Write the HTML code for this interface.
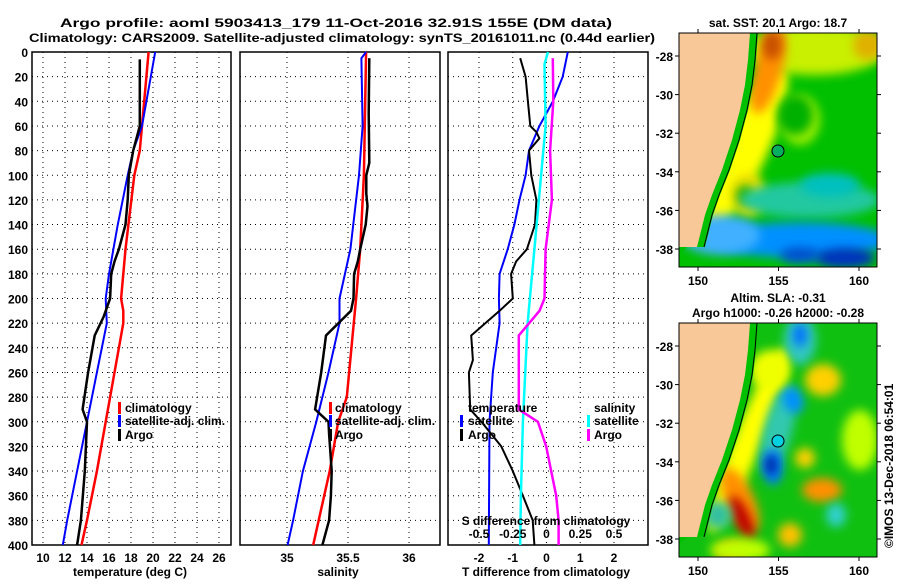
<!DOCTYPE html>
<html><head><meta charset="utf-8"><style>
body{margin:0;background:#fff;}
svg text{font-family:"Liberation Sans",sans-serif;font-weight:bold;font-size:12px;fill:#000;}
</style></head><body>
<svg id="s" width="900" height="580" xmlns="http://www.w3.org/2000/svg">
<text x="60" y="27" font-size="14" textLength="552" lengthAdjust="spacingAndGlyphs">Argo profile: aoml 5903413_179 11-Oct-2016 32.91S 155E (DM data)</text>
<text x="29" y="42" font-size="14" textLength="626" lengthAdjust="spacingAndGlyphs">Climatology: CARS2009. Satellite-adjusted climatology: synTS_20161011.nc (0.44d earlier)</text>
<g id="maps"></g>
<g id="plots"></g>
</svg>
<script>
const depthTicks=[0,20,40,60,80,100,120,140,160,180,200,220,240,260,280,300,320,340,360,380,400];
const tempTicks=[10,12,14,16,18,20,22,24,26];
const salTicks=[35,35.5,36];
const tdTicks=[-2,-1,0,1,2];
const sdTicks=[-0.5,-0.25,0,0.25,0.5];
const sdTickLabels=['-0.5','-0.25','0','0.25','0.5'];
const tempClimD=[0,80,100,160,200,210,220,240,280,300,340,380,400];
const tempClimV=[19.6,18.8,18.3,17.5,17.1,17.3,17.3,16.9,16.1,15.7,14.9,14.0,13.5];
const tempSatD=[0,60,80,100,140,160,180,200,220,260,300,340,380,400];
const tempSatV=[20.2,19.0,18.2,17.7,16.8,16.4,16.0,15.7,15.8,14.9,14.0,13.1,12.2,11.8];
const tempArgoD=[6,60,80,100,120,140,160,170,180,200,215,230,260,290,300,340,380,400];
const tempArgoV=[18.8,18.8,18.2,17.8,17.7,17.5,16.9,16.5,16.2,16.1,15.5,14.7,14.1,13.6,14.0,13.8,13.45,13.1];
const salClimD=[0,100,160,200,280,300,340,380,400];
const salClimV=[35.648,35.63,35.60,35.566,35.49,35.42,35.35,35.26,35.215];
const salSatD=[0,5,60,100,160,200,220,260,300,340,380,400];
const salSatV=[35.648,35.61,35.62,35.59,35.52,35.43,35.43,35.34,35.24,35.13,35.05,35.005];
const salArgoD=[5,50,90,100,115,125,140,160,170,180,200,210,230,260,290,300,310,340,360,380,400];
const salArgoV=[35.675,35.67,35.675,35.65,35.65,35.66,35.645,35.6,35.58,35.55,35.545,35.525,35.32,35.28,35.23,35.34,35.345,35.366,35.36,35.345,35.29];
const tdSatD=[0,20,40,60,80,100,120,140,160,180,200,220,260,300,400];
const tdSatV=[0.63,0.48,0.19,-0.21,-0.52,-0.62,-0.8,-0.95,-1.15,-1.39,-1.41,-1.39,-1.59,-1.69,-1.71];
const tdArgoD=[5,20,40,60,65,70,80,100,120,140,160,170,180,200,210,230,250,260,290,300,320,340,360,380,400];
const tdArgoV=[-0.78,-0.62,-0.55,-0.48,-0.3,-0.21,-0.52,-0.45,-0.3,-0.34,-0.58,-0.9,-1.05,-1.0,-1.39,-2.23,-2.18,-2.3,-2.26,-1.93,-1.34,-1.0,-0.7,-0.41,-0.36];
const sdSatD=[0,10,60,100,160,220,300,360,400];
const sdSatV=[0.01,-0.015,-0.007,-0.04,-0.09,-0.14,-0.175,-0.19,-0.195];
const sdArgoD=[5,40,80,120,160,200,210,230,290,300,320,340,360,380,400];
const sdArgoV=[0.047,0.05,0.027,0.04,-0.007,-0.015,-0.052,-0.205,-0.205,-0.064,-0.002,0.035,0.072,0.09,0.09];

const NS='http://www.w3.org/2000/svg';
const plots=document.getElementById('plots');
function mk(tag,attrs,parent){const e=document.createElementNS(NS,tag);for(const k in attrs)e.setAttribute(k,attrs[k]);(parent||plots).appendChild(e);return e;}
const Y0=52,Y1=545;
function yD(d){return Y0+(d/400)*(Y1-Y0);}
function scaleX(x0,x1,v0,v1){return v=>x0+(v-v0)/(v1-v0)*(x1-x0);}
const xT=scaleX(43,219,10,26);
const xS=scaleX(287,409,35,36);
const xTD=scaleX(479,614,-2,2);
const xSD=scaleX(479,614,-0.5,0.5);
const panels=[[32,231],[240,440],[448,648]];
function panelFrame(p,name,ticks,xf,labelY){
  const [a,b]=p;
  for(const d of depthTicks){if(d===0||d===400)continue;
    const l=mk('line',{x1:a,x2:b,y1:yD(d),y2:yD(d),stroke:'#000','stroke-width':1,'stroke-dasharray':'1,4'});
    
    }
  for(const t of ticks){const x=xf(t);
    const l=mk('line',{x1:x,x2:x,y1:Y0,y2:Y1,stroke:'#000','stroke-width':1,'stroke-dasharray':'1,4'});
    
    
    const tx=mk('text',{x:x,y:labelY,'text-anchor':'middle'});tx.textContent=String(t);
    
    }
  const r=mk('rect',{x:a,y:Y0,width:b-a,height:Y1-Y0,fill:'none',stroke:'#000','stroke-width':1.5});
  
  
}
function line(D,V,xf,color,w,name){
  const pts=D.map((d,i)=>xf(V[i]).toFixed(1)+','+yD(d).toFixed(1)).join(' ');
  const p=mk('polyline',{points:pts,fill:'none',stroke:color,'stroke-width':w});
  
  
}
function txt(x,y,s,name,anchor,size){const t=mk('text',{x:x,y:y,'text-anchor':anchor||'start'});if(size)t.setAttribute('font-size',size);t.textContent=s;
  
  return t;}
function legMark(x,y,color,name){const r=mk('rect',{x:x,y:y-10,width:3,height:12,fill:color});
  
  }

for(const d of depthTicks){const t=mk('text',{x:28,y:yD(d)+5,'text-anchor':'end'});t.textContent=String(d);
  
  }

panelFrame(panels[0],'temperature-panel',tempTicks,xT,562);
panelFrame(panels[1],'salinity-panel',salTicks,xS,562);
panelFrame(panels[2],'difference-panel',tdTicks,xTD,562);
line(tempClimD,tempClimV,xT,'#ff0000',2.5,'temp-climatology-line');
line(tempSatD,tempSatV,xT,'#0000ff',2,'temp-satellite-line');
line(tempArgoD,tempArgoV,xT,'#000',2.5,'temp-argo-line');
line(salClimD,salClimV,xS,'#ff0000',2.5,'sal-climatology-line');
line(salSatD,salSatV,xS,'#0000ff',2,'sal-satellite-line');
line(salArgoD,salArgoV,xS,'#000',2.5,'sal-argo-line');
line(tdSatD,tdSatV,xTD,'#0000ff',2,'tdiff-satellite-line');
line(tdArgoD,tdArgoV,xTD,'#000',2,'tdiff-argo-line');
line(sdSatD,sdSatV,xSD,'#00ffff',2.5,'sdiff-satellite-line');
line(sdArgoD,sdArgoV,xSD,'#ff00ff',2.5,'sdiff-argo-line');

txt(130,576,'temperature (deg C)','x-axis-title-temperature','middle');
txt(338,576,'salinity','x-axis-title-salinity','middle');
txt(546,576,'T difference from climatology','x-axis-title-tdiff','middle');
txt(546,525,'S difference from climatology','sdiff-axis-title','middle');
for(let i=0;i<sdTicks.length;i++){txt(xSD(sdTicks[i]),538,sdTickLabels[i],'sdiff-tick-label','middle');}

legMark(118,412,'#ff0000','legend-mark-climatology');txt(125,412,'climatology','legend-climatology');
legMark(118,425,'#0000ff','legend-mark-satellite');txt(125,425,'satellite-adj. clim.','legend-satellite');
legMark(118,439,'#000','legend-mark-argo');txt(125,439,'Argo','legend-argo');
legMark(329,412,'#ff0000','legend-mark-climatology-2');txt(335,412,'climatology','legend-climatology-2');
legMark(329,425,'#0000ff','legend-mark-satellite-2');txt(335,425,'satellite-adj. clim.','legend-satellite-2');
legMark(329,439,'#000','legend-mark-argo-2');txt(335,439,'Argo','legend-argo-2');
txt(468,412,'temperature','legend-temperature-header');
legMark(460,425,'#0000ff','legend-mark-tsat');txt(468,425,'satellite','legend-tsat');
legMark(460,439,'#000','legend-mark-targo');txt(468,439,'Argo','legend-targo');
txt(594,412,'salinity','legend-salinity-header');
legMark(587,425,'#00ffff','legend-mark-ssat');txt(594,425,'satellite','legend-ssat');
legMark(587,439,'#ff00ff','legend-mark-sargo');txt(594,439,'Argo','legend-sargo');

const maps=document.getElementById('maps');
function M(tag,attrs,parent){return mk(tag,attrs,parent||maps);}
const lonTicks=[150,155,160];const latTicks=[-28,-30,-32,-34,-36,-38];
function mapAt(oy,kind){
  const g=M('g',{});
  
  
  const cid='clip'+kind;
  const cp=M('clipPath',{id:cid},g);M('rect',{x:679,y:33+oy,width:198,height:234},cp);
  const inner=M('g',{'clip-path':'url(#'+cid+')'},g);
  // [color, cx, cy, rx, ry, rotation]
  const blobs=kind==='sst'?
   [['#00c000'],
    ['#c8f000',815,50,70,25,0],['#ffff00',745,150,22,90,25],['#ff9000',768,70,14,45,15],['#c85000',772,45,10,15,0],
    ['#e0b000',868,45,15,15,0],['#a0f000',800,120,20,25,0],['#00b000',795,115,18,20,0],
    ['#f0e000',748,195,18,22,0],['#20b000',745,195,9,10,0],
    ['#20c8a0',810,200,70,18,0],['#00c0c0',830,185,30,12,0],
    ['#0090ff',800,240,90,18,0],['#40b0ff',720,235,40,20,0],['#0030c0',845,258,30,10,0],['#0050d0',800,255,20,8,0]]:
   [['#10c010'],
    ['#ffff00',748,150,14,100,22],['#ff9000',740,210,14,35,-25],['#c00000',742,228,8,24,-25],
    ['#30c8b0',778,140,14,45,15],['#0080ff',773,177,10,18,0],['#0020a0',771,175,6,10,0],
    ['#30c8c0',800,50,16,25,0],['#0070ff',800,45,7,12,0],['#0090ff',793,110,10,14,-20],
    ['#ffd000',823,90,18,16,0],['#f0ff00',770,80,20,20,0],['#ffd000',805,168,10,10,0],
    ['#ff9000',822,200,20,12,0],['#30d0d0',836,225,10,12,0],['#ffc000',790,245,12,12,0],
    ['#ff6000',732,262,14,10,0],['#30c0a0',718,225,14,14,0],['#c0ff00',860,150,18,30,0],['#c0ff00',740,260,30,12,0]];
  M('rect',{x:679,y:33+oy,width:198,height:234,fill:blobs[0][0]},inner);
  const fid='blur'+kind;const f=M('filter',{id:fid,x:'-50%',y:'-50%',width:'200%',height:'200%'},g);M('feGaussianBlur',{stdDeviation:5},f);
  for(let i=1;i<blobs.length;i++){const b=blobs[i];M('ellipse',{cx:b[1],cy:b[2]+oy,rx:b[3],ry:b[4],fill:b[0],filter:'url(#'+fid+')',transform:'rotate('+b[5]+' '+b[1]+' '+(b[2]+oy)+')'},inner);}
  const land=[[679,33],[750,33],[748,60],[745,85],[740,110],[732,140],[722,170],[712,195],[705,215],[700,235],[697,247],[679,247]];
  M('polygon',{points:land.map(p=>(p[0]+8)+','+(p[1]+oy)).join(' ')+' 679,'+(255+oy),fill:'#00c000',stroke:'none'},inner);
  M('polyline',{points:land.slice(0,11).map(p=>(p[0]+7)+','+(p[1]+oy)).join(' '),fill:'none',stroke:'#000','stroke-width':1},inner);
  const la=M('polygon',{points:land.map(p=>p[0]+','+(p[1]+oy)).join(' '),fill:'#f8c898'},inner);
  
  
  const c=M('circle',{cx:778,cy:151+oy,r:6,fill:kind==='sst'?'#00b060':'#00d0e0',stroke:'#000','stroke-width':1},g);
  
  
  M('rect',{x:679,y:33+oy,width:198,height:234,fill:'none',stroke:'#000','stroke-width':1},g);
  for(const lo of lonTicks){const x=698+(lo-150)*16.1;M('line',{x1:x,x2:x,y1:267+oy,y2:271+oy,stroke:'#000'},g);M('line',{x1:x,x2:x,y1:33+oy,y2:29+oy,stroke:'#000'},g);
    const t=M('text',{x:x,y:285+oy,'text-anchor':'middle'},g);t.textContent=String(lo);
    
    }
  for(const la2 of latTicks){const y=56+oy+(-28-la2)*19.3;M('line',{x1:877,x2:881,y1:y,y2:y,stroke:'#000'},g);M('line',{x1:675,x2:679,y1:y,y2:y,stroke:'#000'},g);
    const t=M('text',{x:673,y:y+5,'text-anchor':'end'},g);t.textContent=String(la2);
    
    }
}
mapAt(0,'sst');mapAt(290,'sla');
function mt(x,y,s,n){const t=M('text',{x:x,y:y,'text-anchor':'middle'});t.textContent=s;
  
  }
mt(778,27,'sat. SST: 20.1 Argo: 18.7','sst-map-title');
mt(778,302,'Altim. SLA: -0.31','sla-map-title');
mt(778,317,'Argo h1000: -0.26 h2000: -0.28','sla-map-subtitle');
const cr=M('text',{x:0,y:0,transform:'translate(893,548) rotate(-90)','font-weight':'normal'});cr.textContent='©IMOS 13-Dec-2018 06:54:01';


</script>
</body></html>
